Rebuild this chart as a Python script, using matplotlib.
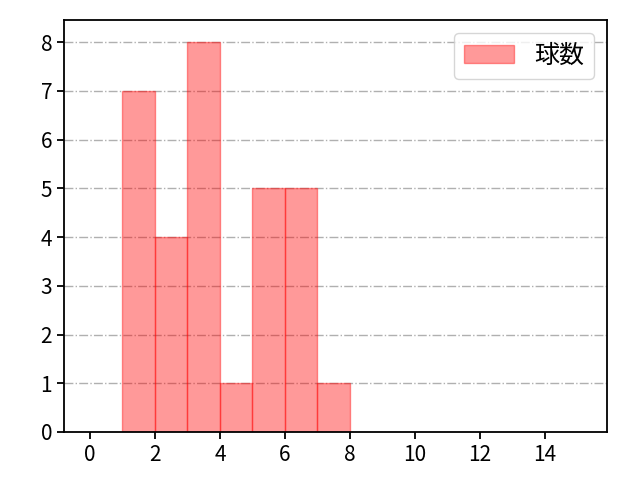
import matplotlib
matplotlib.use("Agg")
import matplotlib.pyplot as plt

plt.rcParams['font.family'] = ['Noto Sans CJK JP', 'DejaVu Sans']
plt.rcParams['font.size'] = 15

# pitch counts per bin
bin_edges = [1, 2, 3, 4, 5, 6, 7, 8]
counts = [7, 4, 8, 1, 5, 5, 1]

fig = plt.figure(figsize=(6.4, 4.8), dpi=100)
ax = fig.add_axes([0.1, 0.1, 0.848, 0.858])

ax.hist(bin_edges[:-1], bins=bin_edges, weights=counts,
        color="red", alpha=0.4, edgecolor="red", label="球数")

ax.set_xlim(-0.8, 15.9)
ax.set_ylim(0, 8.45)
ax.set_xticks(range(0, 15, 2))
ax.set_yticks(range(0, 9))
ax.tick_params(labelsize=15, width=1.3, length=5)
ax.grid(axis="y", linestyle="-.", color="#b0b0b0", linewidth=1)
ax.set_axisbelow(True)
ax.legend(loc="upper right", fontsize=18)

for s in ax.spines.values():
    s.set_linewidth(1.3)

fig.savefig("out.png", dpi=100)
